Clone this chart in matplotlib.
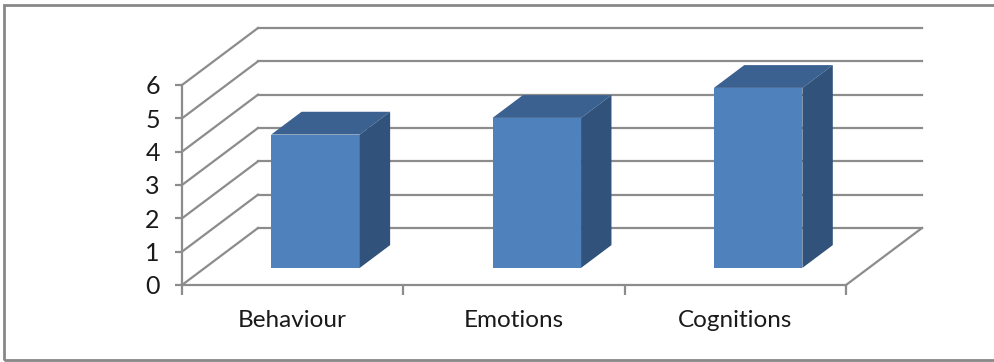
import numpy as np
import matplotlib
matplotlib.use("Agg")
from matplotlib import pyplot as plt
from matplotlib.patches import Polygon, Rectangle

categories = ["Behaviour", "Emotions", "Cognitions"]
values = [4.0, 4.5, 5.4]
y_ticks = [0, 1, 2, 3, 4, 5, 6]

front_col = "#4f81bd"
top_col = "#3b6190"
side_col = "#31527a"
grid_col = "#8c8c8c"

plt.rcParams['font.family'] = ['Lato', 'DejaVu Sans']

W, H = 994, 362
fig = plt.figure(figsize=(W / 100, H / 100), dpi=100)
fig.patch.set_facecolor("white")

# outer border of the chart area
fig.patches.append(Rectangle((4 / W, 2 / H), 1.2, (H - 7) / H, transform=fig.transFigure,
                             fill=False, edgecolor="#888888", lw=2))

# front plane of the plot: x 182..846 px, y 0 at 285 px, 6 at 85 px
ax = fig.add_axes([182 / W, (H - 285) / H, 664 / W, 200 / H])
ax.set_xlim(-0.5, 2.5)
ax.set_ylim(0, 6)
ax.patch.set_alpha(0)

# depth offset of the 3d box in data units
dx = 76 / (664 / 3)
dy = 57 / (200 / 6)

x = np.arange(len(categories))

# back wall gridlines and side wall diagonals
for k in y_ticks:
    ax.plot([-0.5 + dx, 2.5 + dx], [k + dy, k + dy], color=grid_col, lw=1.6, clip_on=False, zorder=1)
    ax.plot([-0.5, -0.5 + dx], [k, k + dy], color=grid_col, lw=1.6, clip_on=False, zorder=1)
# floor right edge
ax.plot([2.5, 2.5 + dx], [0, dy], color=grid_col, lw=1.6, clip_on=False, zorder=1)

# bars: front face at 30% depth, 40% deep
f0, f1 = 0.3, 0.7
bw = 0.4
ax.bar(x + f0 * dx, values, width=bw, bottom=f0 * dy, color=front_col, zorder=3)
for xi, v in zip(x, values):
    l = xi - bw / 2 + f0 * dx
    r = xi + bw / 2 + f0 * dx
    b = f0 * dy
    t = v + f0 * dy
    ddx = (f1 - f0) * dx
    ddy = (f1 - f0) * dy
    ax.add_patch(Polygon([[l, t], [r, t], [r + ddx, t + ddy], [l + ddx, t + ddy]],
                         closed=True, facecolor=top_col, edgecolor="none", zorder=3, clip_on=False))
    ax.add_patch(Polygon([[r, b], [r + ddx, b + ddy], [r + ddx, t + ddy], [r, t]],
                         closed=True, facecolor=side_col, edgecolor="none", zorder=3, clip_on=False))

# axes
for s in ["top", "right"]:
    ax.spines[s].set_visible(False)
for s in ["left", "bottom"]:
    ax.spines[s].set_color(grid_col)
    ax.spines[s].set_linewidth(1.6)

ax.set_yticks(y_ticks)
ax.set_yticklabels([str(t) for t in y_ticks], fontsize=18, color="#1a1a1a")
ax.tick_params(axis="y", length=5, width=1.6, color=grid_col, pad=11)

ax.set_xticks(x)
ax.set_xticklabels(categories, fontsize=17.5, color="#1a1a1a")
ax.set_xticks([-0.5, 0.5, 1.5, 2.5], minor=True)
ax.tick_params(axis="x", which="major", length=0, pad=18)
ax.tick_params(axis="x", which="minor", length=7, width=1.6, color=grid_col)

fig.savefig("out.png", dpi=100)
